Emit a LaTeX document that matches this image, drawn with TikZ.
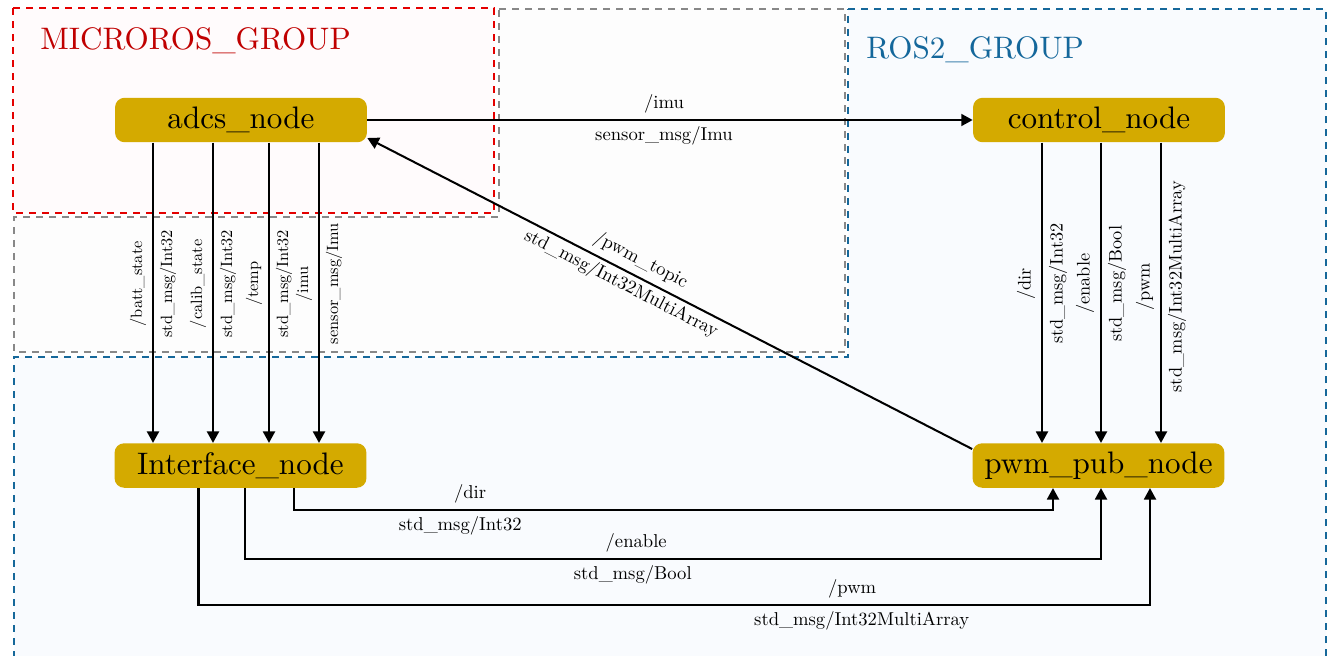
\documentclass[tikz,border=0pt]{standalone}
\usepackage{fontspec}
\setmainfont{lmroman10-regular}[Extension=.otf, BoldFont=lmroman10-bold, ItalicFont=lmroman10-italic]
\usetikzlibrary{arrows.meta,calc}
\definecolor{nodefill}{RGB}{212,170,0}
\definecolor{redline}{RGB}{228,0,0}
\definecolor{redtext}{RGB}{192,0,0}
\definecolor{blueline}{RGB}{22,104,154}
\definecolor{bluetext}{RGB}{20,103,155}
\definecolor{grayline}{RGB}{136,136,136}
\definecolor{bluefill}{RGB}{249,251,254}
\definecolor{redfill}{RGB}{255,251,252}
\definecolor{grayfill}{RGB}{253,253,253}
\tikzset{
  grp/.style={line width=1.1pt, dash pattern=on 4pt off 3.4pt},
  rosnode/.style={fill=nodefill, rounded corners=5.5pt, minimum width=5.04cm,
    minimum height=0.89cm, inner sep=0pt, font=\fontsize{17.7}{20}\selectfont},
  arr/.style={line width=1.15pt, -{Triangle[length=6.5pt,width=6.8pt]}},
  rarr/.style={line width=1.15pt, {Triangle[length=6.5pt,width=6.8pt]}-},
  lbl/.style={font=\fontsize{10.6}{12}\selectfont},
  vlbl/.style={font=\fontsize{9.3}{11}\selectfont, rotate=90},
  vlblr/.style={font=\fontsize{10.4}{12}\selectfont, rotate=90},
  grplbl/.style={font=\fontsize{17.7}{20}\selectfont, anchor=base west, inner sep=0pt}
}
\begin{document}
\begin{tikzpicture}[x=0.02cm, y=-0.02cm]
\useasboundingbox (0,0) rectangle (1333,656);
\fill[white] (0,0) rectangle (1333,656);
% groups
\draw[grp, blueline, fill=bluefill] (848,9) -- (1326,9) -- (1326,680) -- (14,680) -- (14,357) -- (848,357) -- cycle;
\draw[grp, grayline, fill=grayfill] (499,9) -- (845,9) -- (845,352) -- (14,352) -- (14,217) -- (499,217) -- cycle;
\draw[grp, redline, fill=redfill] (13,8) rectangle (494,213);
\node[grplbl, text=redtext] (gmicro) at (40,49) {MICROROS\_GROUP};
\node[grplbl, text=bluetext] (gros) at (866,58) {ROS2\_GROUP};
% nodes
\node[rosnode] (adcs) at (241,120) {adcs\_node};
\node[rosnode] (control) at (1099,120) {control\_node};
\node[rosnode] (iface) at (240.5,465.5) {Interface\_node};
\node[rosnode] (pwm) at (1098.5,465.5) {pwm\_pub\_node};
% column coordinates
\coordinate (a1) at (153,0);
\coordinate (a2) at (213,0);
\coordinate (a3) at (269,0);
\coordinate (a4) at (319,0);
\coordinate (b1) at (1042,0);
\coordinate (b2) at (1101,0);
\coordinate (b3) at (1161,0);
% adcs -> control
\draw[arr] (adcs.east) -- node[lbl, above, pos=0.49] (limu) {/imu}
  node[lbl, below, pos=0.49] (limut) {sensor\_msg/Imu} (control.west);
% adcs -> interface
\draw[arr] (adcs.south -| a1) -- node[vlbl, above, pos=0.47] (l1) {/batt\_state}
  node[vlbl, below, pos=0.47] (l1t) {std\_msg/Int32} (iface.north -| a1);
\draw[arr] (adcs.south -| a2) -- node[vlbl, above, pos=0.47] (l2) {/calib\_state}
  node[vlbl, below, pos=0.47] (l2t) {std\_msg/Int32} (iface.north -| a2);
\draw[arr] (adcs.south -| a3) -- node[vlbl, above, pos=0.47] (l3) {/temp}
  node[vlbl, below, pos=0.47] (l3t) {std\_msg/Int32} (iface.north -| a3);
\draw[arr] (adcs.south -| a4) -- node[vlbl, above, pos=0.47] (l4) {/imu}
  node[vlbl, below, pos=0.47] (l4t) {sensor\_msg/Imu} (iface.north -| a4);
% control -> pwm
\draw[arr] (control.south -| b1) -- node[vlblr, above, pos=0.47] (r1) {/dir}
  node[vlblr, below, pos=0.47] (r1t) {std\_msg/Int32} (pwm.north -| b1);
\draw[arr] (control.south -| b2) -- node[vlblr, above, pos=0.47] (r2) {/enable}
  node[vlblr, below, pos=0.47] (r2t) {std\_msg/Bool} (pwm.north -| b2);
\draw[arr] (control.south -| b3) -- node[vlblr, above, pos=0.48] (r3) {/pwm}
  node[vlblr, below, pos=0.48] (r3t) {std\_msg/Int32MultiArray} (pwm.north -| b3);
% pwm -> adcs (diagonal)
\draw[rarr] ([yshift=-0.36cm]adcs.east) -- node[lbl, sloped, above, pos=0.44] (ld) {/pwm\_topic}
  node[lbl, sloped, below, pos=0.43, inner sep=2pt] (ldt) {std\_msg/Int32MultiArray} ([yshift=0.33cm]pwm.west);
% interface -> pwm
\coordinate (dL) at (294,510);
\coordinate (dR) at (1053,510);
\coordinate (eL) at (245,559);
\coordinate (eR) at (1101,559);
\coordinate (pL) at (198.5,605);
\coordinate (pR) at (1150,605);
\draw[arr] (iface.south -| dL) -- (dL) -- node[lbl, above, pos=0.232] (ldir) {/dir}
  node[lbl, below, pos=0.219] (ldirt) {std\_msg/Int32} (dR) -- (pwm.south -| dR);
\draw[arr] (iface.south -| eL) -- (eL) -- node[lbl, above, pos=0.457] (len) {/enable}
  node[lbl, below, pos=0.453] (lent) {std\_msg/Bool} (eR) -- (pwm.south -| eR);
\draw[arr] (iface.south -| pL) -- (pL) -- node[lbl, above, pos=0.687] (lpwm) {/pwm}
  node[lbl, below, pos=0.697] (lpwmt) {std\_msg/Int32MultiArray} (pR) -- (pwm.south -| pR);
\end{tikzpicture}
\end{document}
